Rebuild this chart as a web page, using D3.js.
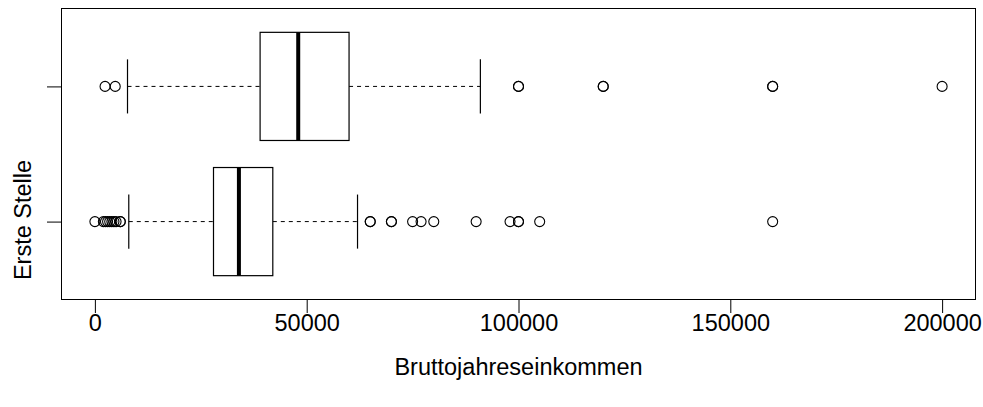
<!DOCTYPE html>
<html>
<head>
<meta charset="utf-8">
<script src="https://cdn.jsdelivr.net/npm/d3@7"></script>
<style>
  html, body { margin: 0; padding: 0; background: #fff; }
  svg { display: block; }
  text { font-family: "Liberation Sans", Arial, Helvetica, sans-serif; fill: #000; }
</style>
</head>
<body>
<svg id="chart" width="983" height="407"></svg>
<script>
// ---- data ----
const groups      = [1, 2];                 // 1 = bottom box, 2 = top box
const whiskerLow  = [8000, 7700];
const q1          = [28000, 39000];
const medians     = [34000, 48000];
const q3          = [42000, 60000];
const whiskerHigh = [62000, 91000];
const outliers1   = [0, 2000, 2500, 3000, 3500, 4000, 4500, 5000, 6000, 6000,
                     65000, 65000, 70000, 70000, 75000, 77000, 80000, 90000,
                     98000, 100000, 100000, 105000, 160000];
const outliers2   = [2400, 4800, 100000, 100000, 120000, 120000, 160000, 160000, 200000];
const xTicks      = [0, 50000, 100000, 150000, 200000];
const xTitle      = "Bruttojahreseinkommen";
const yTitle      = "Erste Stelle";

// ---- layout ----
const svg = d3.select("#chart");
const FS = 23.5;
const L = 61, R = 976, T = 8, B = 300;
const x = d3.scaleLinear().domain([-8000, 208000]).range([L, R]);
const y = d3.scaleLinear().domain([0.42, 2.58]).range([B, T]);
const unit = Math.abs(y(1) - y(0));
const boxHalf = 0.4 * unit, stapleHalf = 0.2 * unit;

// axes
const xAxis = d3.axisBottom(x).tickValues(xTicks).tickFormat(d3.format("d"))
  .tickSize(13).tickPadding(0);
const gx = svg.append("g").attr("transform", `translate(0,${B})`).call(xAxis);
gx.select(".domain").remove();
gx.selectAll(".tick line").attr("stroke", "#000").attr("stroke-width", 1);
gx.selectAll(".tick text").attr("font-size", FS).attr("dy", null).attr("y", 31)
  .attr("font-family", '"Liberation Sans", Arial, sans-serif');

const yAxis = d3.axisLeft(y).tickValues(groups).tickFormat("").tickSize(14);
const gy = svg.append("g").attr("transform", `translate(${L},0)`).call(yAxis);
gy.select(".domain").remove();
gy.selectAll(".tick line").attr("stroke", "#000").attr("stroke-width", 1);

// frame
svg.append("rect").attr("x", L + 0.5).attr("y", T + 0.5)
  .attr("width", R - L - 1).attr("height", B - T - 1)
  .attr("fill", "none").attr("stroke", "#000").attr("stroke-width", 1);

// boxes
const stats = groups.map((g, i) => ({
  g, lo: whiskerLow[i], q1: q1[i], med: medians[i], q3: q3[i], hi: whiskerHigh[i]
}));
const bx = svg.append("g");
stats.forEach(s => {
  const cy = y(s.g);
  [[s.lo, s.q1], [s.q3, s.hi]].forEach(([a, b]) => {
    bx.append("line").attr("x1", x(a)).attr("x2", x(b)).attr("y1", cy).attr("y2", cy)
      .attr("stroke", "#000").attr("stroke-width", 1).attr("stroke-dasharray", "4,4");
  });
  [s.lo, s.hi].forEach(v => {
    bx.append("line").attr("x1", x(v)).attr("x2", x(v))
      .attr("y1", cy - stapleHalf).attr("y2", cy + stapleHalf)
      .attr("stroke", "#000").attr("stroke-width", 1.2);
  });
  bx.append("rect").attr("x", x(s.q1)).attr("y", cy - boxHalf)
    .attr("width", x(s.q3) - x(s.q1)).attr("height", 2 * boxHalf)
    .attr("fill", "#fff").attr("stroke", "#000").attr("stroke-width", 1.2);
  bx.append("line").attr("x1", x(s.med)).attr("x2", x(s.med))
    .attr("y1", cy - boxHalf).attr("y2", cy + boxHalf)
    .attr("stroke", "#000").attr("stroke-width", 4);
});

// outliers
const outs = [...outliers1.map(v => ({g: 1, v})), ...outliers2.map(v => ({g: 2, v}))];
svg.append("g").selectAll("circle").data(outs).join("circle")
  .attr("cx", d => x(d.v)).attr("cy", d => y(d.g)).attr("r", 5)
  .attr("fill", "none").attr("stroke", "#000").attr("stroke-width", 1.1);

// titles
svg.append("text").attr("x", (L + R) / 2).attr("y", 375).attr("text-anchor", "middle")
  .attr("font-size", FS).text(xTitle);
svg.append("text").attr("transform", "translate(31,220) rotate(-90)")
  .attr("text-anchor", "middle").attr("font-size", FS).text(yTitle);
</script>
</body>
</html>
